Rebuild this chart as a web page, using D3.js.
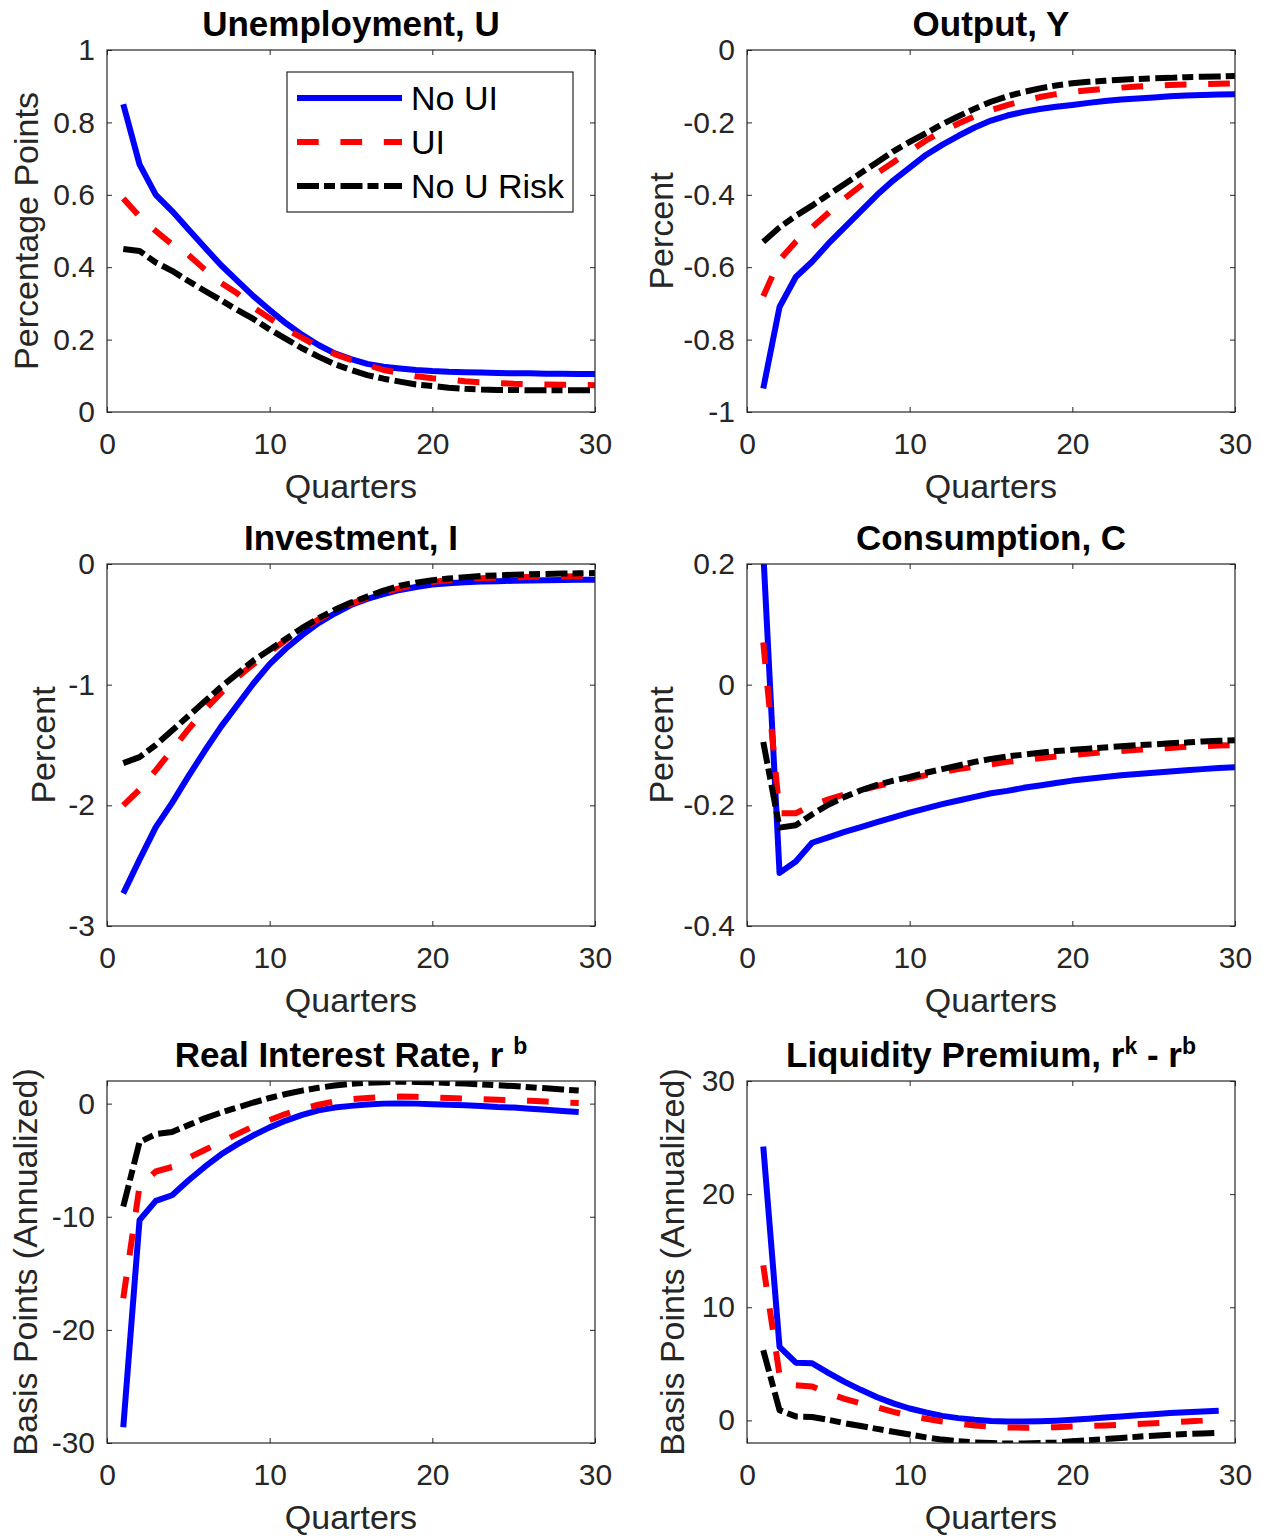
<!DOCTYPE html>
<html>
<head>
<meta charset="utf-8">
<script src="https://cdn.jsdelivr.net/npm/d3@7"></script>
<style>
	body { margin: 0; background: #fff; }
	svg { display: block; font-family: 'Liberation Sans', Arial, Helvetica, sans-serif; }
</style>
</head>
<body>
<svg id="chart" width="1263" height="1537"></svg>
<script>
const quarters = [1, 2, 3, 4, 5, 6, 7, 8, 9, 10, 11, 12, 13, 14, 15, 16, 17, 18, 19, 20, 21, 22, 23, 24, 25, 26, 27, 28, 29, 30]
const xTicks = [0, 10, 20, 30]
const seriesNames = ['No UI', 'UI', 'No U Risk']

// Unemployment, U (percentage points)
const unempNoUI = [0.85, 0.684, 0.60, 0.555, 0.505, 0.455, 0.406, 0.363, 0.32, 0.282, 0.245, 0.213, 0.185, 0.162, 0.146, 0.133, 0.125, 0.12, 0.116, 0.113, 0.111, 0.11, 0.109, 0.108, 0.107, 0.107, 0.106, 0.106, 0.105, 0.105]
const unempUI = [0.59, 0.54, 0.50, 0.463, 0.434, 0.394, 0.357, 0.328, 0.289, 0.259, 0.229, 0.205, 0.18, 0.16, 0.144, 0.13, 0.116, 0.108, 0.099, 0.093, 0.09, 0.085, 0.082, 0.08, 0.078, 0.077, 0.076, 0.075, 0.075, 0.074]
const unempNoRisk = [0.45, 0.445, 0.413, 0.39, 0.362, 0.335, 0.309, 0.282, 0.257, 0.228, 0.202, 0.176, 0.153, 0.132, 0.116, 0.102, 0.092, 0.084, 0.076, 0.072, 0.067, 0.064, 0.062, 0.061, 0.061, 0.06, 0.06, 0.06, 0.06, 0.06]

// Output, Y (percent)
const outputNoUI = [-0.935, -0.71, -0.627, -0.585, -0.535, -0.49, -0.445, -0.40, -0.36, -0.325, -0.29, -0.262, -0.237, -0.214, -0.195, -0.181, -0.171, -0.163, -0.157, -0.152, -0.146, -0.141, -0.137, -0.134, -0.131, -0.128, -0.126, -0.124, -0.123, -0.122]
const outputUI = [-0.68, -0.58, -0.53, -0.49, -0.45, -0.41, -0.375, -0.34, -0.31, -0.28, -0.25, -0.225, -0.203, -0.183, -0.166, -0.152, -0.14, -0.13, -0.122, -0.116, -0.111, -0.107, -0.104, -0.101, -0.099, -0.097, -0.095, -0.094, -0.093, -0.092]
const outputNoRisk = [-0.53, -0.49, -0.458, -0.43, -0.40, -0.37, -0.34, -0.31, -0.28, -0.254, -0.23, -0.205, -0.183, -0.162, -0.143, -0.128, -0.116, -0.106, -0.098, -0.092, -0.088, -0.085, -0.082, -0.08, -0.078, -0.077, -0.075, -0.074, -0.073, -0.072]

// Investment, I (percent)
const investNoUI = [-2.73, -2.45, -2.18, -1.98, -1.76, -1.55, -1.35, -1.17, -0.99, -0.83, -0.70, -0.59, -0.49, -0.41, -0.34, -0.29, -0.25, -0.215, -0.19, -0.17, -0.16, -0.152, -0.146, -0.142, -0.139, -0.136, -0.134, -0.132, -0.131, -0.13]
const investUI = [-2.0, -1.87, -1.71, -1.54, -1.37, -1.21, -1.07, -0.94, -0.83, -0.73, -0.63, -0.54, -0.46, -0.39, -0.33, -0.28, -0.24, -0.2, -0.17, -0.15, -0.135, -0.125, -0.118, -0.113, -0.11, -0.107, -0.105, -0.103, -0.101, -0.1]
const investNoRisk = [-1.65, -1.6, -1.5, -1.38, -1.26, -1.14, -1.02, -0.91, -0.8, -0.71, -0.62, -0.53, -0.45, -0.38, -0.32, -0.27, -0.22, -0.18, -0.155, -0.135, -0.12, -0.11, -0.1, -0.094, -0.089, -0.085, -0.082, -0.079, -0.077, -0.075]

// Consumption, C (percent)
const consNoUI = [0.22, -0.312, -0.293, -0.262, -0.253, -0.244, -0.236, -0.228, -0.22, -0.212, -0.205, -0.198, -0.192, -0.186, -0.18, -0.176, -0.171, -0.167, -0.163, -0.159, -0.156, -0.153, -0.15, -0.148, -0.146, -0.144, -0.142, -0.14, -0.138, -0.137]
const consUI = [0.07, -0.213, -0.213, -0.2, -0.19, -0.182, -0.175, -0.168, -0.162, -0.156, -0.15, -0.145, -0.14, -0.136, -0.132, -0.128, -0.125, -0.122, -0.119, -0.117, -0.114, -0.112, -0.11, -0.108, -0.106, -0.105, -0.103, -0.102, -0.101, -0.1]
const consNoRisk = [-0.095, -0.237, -0.233, -0.215, -0.199, -0.186, -0.175, -0.166, -0.159, -0.153, -0.146, -0.14, -0.134, -0.128, -0.123, -0.119, -0.116, -0.113, -0.11, -0.108, -0.106, -0.104, -0.102, -0.1, -0.099, -0.097, -0.096, -0.094, -0.093, -0.092]

// Real interest rate, r^b (basis points, annualized), quarters 1-29
const rateNoUI = [-28.6, -10.3, -8.6, -8.1, -6.8, -5.6, -4.5, -3.6, -2.8, -2.1, -1.5, -1.0, -0.6, -0.35, -0.2, -0.08, 0, 0.02, 0, -0.05, -0.1, -0.15, -0.2, -0.3, -0.35, -0.45, -0.55, -0.65, -0.75]
const rateUI = [-17.2, -7.3, -6.0, -5.6, -4.8, -4.1, -3.4, -2.7, -2.0, -1.45, -0.9, -0.45, -0.1, 0.2, 0.4, 0.5, 0.6, 0.62, 0.6, 0.55, 0.5, 0.45, 0.4, 0.35, 0.3, 0.25, 0.18, 0.1, 0.05]
const rateNoRisk = [-9.1, -3.4, -2.7, -2.5, -1.9, -1.3, -0.8, -0.35, 0.1, 0.5, 0.85, 1.15, 1.4, 1.6, 1.75, 1.85, 1.9, 1.95, 1.92, 1.88, 1.83, 1.77, 1.7, 1.62, 1.55, 1.45, 1.35, 1.25, 1.15]

// Liquidity premium, r^k - r^b (basis points, annualized), quarters 1-29
const premNoUI = [24.2, 6.5, 5.1, 5.05, 4.2, 3.4, 2.7, 2.05, 1.5, 1.05, 0.7, 0.4, 0.2, 0.05, -0.05, -0.1, -0.1, -0.08, -0.03, 0.05, 0.15, 0.25, 0.35, 0.45, 0.55, 0.65, 0.72, 0.78, 0.85]
const premUI = [13.7, 4.0, 3.1, 3.0, 2.4, 1.9, 1.5, 1.15, 0.75, 0.4, 0.15, -0.1, -0.3, -0.45, -0.55, -0.62, -0.65, -0.63, -0.6, -0.55, -0.5, -0.45, -0.38, -0.32, -0.25, -0.18, -0.1, -0.02, 0.1]
const premNoRisk = [6.2, 0.9, 0.35, 0.3, 0.05, -0.25, -0.5, -0.75, -1.0, -1.25, -1.5, -1.7, -1.85, -1.95, -2.0, -2.05, -2.05, -2.0, -1.95, -1.85, -1.75, -1.65, -1.55, -1.45, -1.35, -1.28, -1.2, -1.15, -1.1]

const unempTicks = [0, 0.2, 0.4, 0.6, 0.8, 1]
const outputTicks = [-1, -0.8, -0.6, -0.4, -0.2, 0]
const investTicks = [-3, -2, -1, 0]
const consTicks = [-0.4, -0.2, 0, 0.2]
const rateTicks = [-30, -20, -10, 0]
const premTicks = [0, 10, 20, 30]

const COLS = [107, 747]
const ROWS = [50, 564, 1081]
const PLOT_W = 488
const PLOT_H = 362
const AXIS_COLOR = '#262626'
const TICK_FONT = 30
const LABEL_FONT = 34
const TITLE_FONT = 35

const styles = [
	{ color: '#0000ff', dash: null },
	{ color: '#ff0000', dash: '21.7,21.7' },
	{ color: '#000000', dash: '22,5,11,5.5' }
]

const panels = [
	{ title: [['Unemployment, U']], ylabel: 'Percentage Points', labelX: 38, domain: [0, 1], ticks: unempTicks, series: [unempNoUI, unempUI, unempNoRisk], legend: true },
	{ title: [['Output, Y']], ylabel: 'Percent', labelX: 673, domain: [-1, 0], ticks: outputTicks, series: [outputNoUI, outputUI, outputNoRisk] },
	{ title: [['Investment, I']], ylabel: 'Percent', labelX: 55, domain: [-3, 0], ticks: investTicks, series: [investNoUI, investUI, investNoRisk] },
	{ title: [['Consumption, C']], ylabel: 'Percent', labelX: 673, domain: [-0.4, 0.2], ticks: consTicks, series: [consNoUI, consUI, consNoRisk] },
	{ title: [['Real Interest Rate, r\u00a0'], ['b', true]], ylabel: 'Basis Points (Annualized)', labelX: 37, domain: [-30, 2], ticks: rateTicks, series: [rateNoUI, rateUI, rateNoRisk] },
	{ title: [['Liquidity Premium, r'], ['k', true], [' - r'], ['b', true]], ylabel: 'Basis Points (Annualized)', labelX: 684, domain: [-2, 30], ticks: premTicks, series: [premNoUI, premUI, premNoRisk] }
]

const svg = d3.select('#chart')

function styleTicks(g) {
	g.select('.domain').remove()
	g.selectAll('.tick line').attr('stroke', AXIS_COLOR).attr('stroke-width', 1)
	g.selectAll('.tick text')
		.attr('fill', AXIS_COLOR)
		.style('font-size', `${TICK_FONT}px`)
		.style('font-family', "'Liberation Sans', Arial, sans-serif")
}

function drawPanel(p, i) {
	const left = COLS[i % 2]
	const top = ROWS[Math.floor(i / 2)]

	const x = d3.scaleLinear().domain([0, 30]).range([0, PLOT_W])
	const y = d3.scaleLinear().domain(p.domain).range([PLOT_H, 0])

	const g = svg.append('g').attr('transform', `translate(${left}, ${top})`)

	g.append('rect')
		.attr('width', PLOT_W)
		.attr('height', PLOT_H)
		.attr('fill', '#fff')

	// ticks on all four sides, pointing inward
	g.append('g')
		.call(d3.axisLeft(y).tickValues(p.ticks).tickFormat(d => String(d)).tickSizeInner(-5).tickSizeOuter(0).tickPadding(12))
		.call(styleTicks)
	g.append('g')
		.attr('transform', `translate(${PLOT_W}, 0)`)
		.call(d3.axisRight(y).tickValues(p.ticks).tickFormat('').tickSizeInner(-5).tickSizeOuter(0))
		.call(styleTicks)
	g.append('g')
		.attr('transform', `translate(0, ${PLOT_H})`)
		.call(d3.axisBottom(x).tickValues(xTicks).tickFormat(d => String(d)).tickSizeInner(-5).tickSizeOuter(0).tickPadding(21))
		.call(styleTicks)
	g.append('g')
		.call(d3.axisTop(x).tickValues(xTicks).tickFormat('').tickSizeInner(-5).tickSizeOuter(0))
		.call(styleTicks)

	const clipId = `clip-${i}`
	g.append('clipPath').attr('id', clipId)
		.append('rect')
		.attr('width', PLOT_W)
		.attr('height', PLOT_H)

	const line = d3.line()
		.x(d => x(d[0]))
		.y(d => y(d[1]))

	const lines = g.append('g').attr('clip-path', `url(#${clipId})`)

	p.series.forEach((values, k) => {
		const pts = values.map((v, j) => [quarters[j], v])
		lines.append('path')
			.attr('d', line(pts))
			.attr('fill', 'none')
			.attr('stroke', styles[k].color)
			.attr('stroke-width', 6)
			.attr('stroke-linejoin', 'round')
			.attr('stroke-dasharray', styles[k].dash)
	})

	g.append('rect')
		.attr('width', PLOT_W)
		.attr('height', PLOT_H)
		.attr('fill', 'none')
		.attr('stroke', AXIS_COLOR)
		.attr('stroke-width', 1.2)

	// title, with superscripts where needed
	const title = g.append('text')
		.attr('x', PLOT_W / 2)
		.attr('y', -14)
		.attr('text-anchor', 'middle')
		.attr('font-weight', 'bold')
		.attr('fill', '#000')
		.style('font-size', `${TITLE_FONT}px`)

	p.title.forEach(([txt, sup]) => {
		const span = title.append('tspan').text(txt)
		if (sup) span.attr('dy', -13).style('font-size', '23px')
		else if (title.selectAll('tspan').size() > 1) span.attr('dy', 13)
	})

	// x label
	g.append('text')
		.attr('x', PLOT_W / 2)
		.attr('y', PLOT_H + 86)
		.attr('text-anchor', 'middle')
		.attr('fill', AXIS_COLOR)
		.style('font-size', `${LABEL_FONT}px`)
		.text('Quarters')

	// y label
	svg.append('text')
		.attr('transform', `translate(${p.labelX}, ${top + PLOT_H / 2}) rotate(-90)`)
		.attr('text-anchor', 'middle')
		.attr('fill', AXIS_COLOR)
		.style('font-size', `${LABEL_FONT}px`)
		.text(p.ylabel)

	if (p.legend) drawLegend(g)
}

function drawLegend(g) {
	const lg = g.append('g').attr('transform', 'translate(180, 22)')

	lg.append('rect')
		.attr('width', 286)
		.attr('height', 140)
		.attr('fill', '#fff')
		.attr('stroke', AXIS_COLOR)
		.attr('stroke-width', 1.2)

	seriesNames.forEach((name, k) => {
		const ly = 26 + k * 44
		lg.append('line')
			.attr('x1', 10)
			.attr('x2', 115)
			.attr('y1', ly)
			.attr('y2', ly)
			.attr('stroke', styles[k].color)
			.attr('stroke-width', 6)
			.attr('stroke-dasharray', styles[k].dash)
		lg.append('text')
			.attr('x', 124)
			.attr('y', ly + 12)
			.attr('fill', '#000')
			.style('font-size', `${LABEL_FONT}px`)
			.text(name)
	})
}

panels.forEach(drawPanel)
</script>
</body>
</html>
